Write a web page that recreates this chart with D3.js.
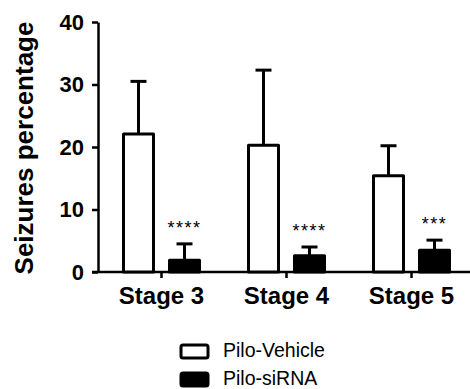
<!DOCTYPE html>
<html lang="en">
<head>
    <meta charset="UTF-8">
    <title>Seizures percentage</title>
    <script src="https://d3js.org/d3.v7.min.js"></script>
    <style>
        body { margin: 0; background: #fff; }
        text { font-family: "Liberation Sans", Arial, sans-serif; }
    </style>
</head>
<body>
    <svg width="470" height="389"></svg>
    <script>
        // data
        const stages = ["Stage 3", "Stage 4", "Stage 5"];
        const groups = ["Pilo-Vehicle", "Pilo-siRNA"];
        const vehicleMean = [22.1, 20.3, 15.4];
        const vehicleErr = [8.4, 12.0, 4.8];
        const sirnaMean = [1.9, 2.6, 3.5];
        const sirnaErr = [2.6, 1.4, 1.6];
        const stars = ["****", "****", "***"];
        const yTicks = [0, 10, 20, 30, 40];

        const svg = d3.select("svg");
        const fills = ["#fff", "#000"];

        const y = d3.scaleLinear().domain([0, 40]).range([272, 22]);
        const x0 = d3.scaleBand().domain(stages).range([99, 474]);
        const x1 = d3.scaleBand().domain(groups).range([-39.5, 39.5]).paddingInner(0.2826);

        // axes
        const yAxis = svg.append("g")
            .attr("transform", "translate(98,0)")
            .call(d3.axisLeft(y).tickValues(yTicks).tickSize(6).tickPadding(8).tickSizeOuter(0));
        yAxis.selectAll("text").attr("font-size", 22).attr("font-weight", "bold").attr("fill", "#000");

        const xAxis = svg.append("g")
            .attr("transform", "translate(0,272)")
            .call(d3.axisBottom(x0).tickSize(6).tickPadding(9).tickSizeOuter(0));
        xAxis.selectAll("text").attr("font-size", 24).attr("font-weight", "bold").attr("fill", "#000");

        svg.selectAll(".domain, .tick line").attr("stroke", "#000").attr("stroke-width", 2.5);
        xAxis.select(".domain").attr("d", "M92,0H470");

        // bars
        const rows = stages.map((s, i) => ({
            stage: s,
            vals: [
                {g: groups[0], m: vehicleMean[i], e: vehicleErr[i], k: 0},
                {g: groups[1], m: sirnaMean[i], e: sirnaErr[i], k: 1}
            ],
            star: stars[i]
        }));

        const grp = svg.selectAll(".grp")
            .data(rows)
            .enter().append("g")
            .attr("transform", d => `translate(${x0(d.stage) + x0.bandwidth() / 2},0)`);

        const bar = grp.selectAll(".b")
            .data(d => d.vals)
            .enter().append("g");

        bar.append("line")
            .attr("x1", d => x1(d.g) + x1.bandwidth() / 2)
            .attr("x2", d => x1(d.g) + x1.bandwidth() / 2)
            .attr("y1", d => y(d.m))
            .attr("y2", d => y(d.m + d.e))
            .attr("stroke", "#000").attr("stroke-width", 3);
        bar.append("line")
            .attr("x1", d => x1(d.g) + x1.bandwidth() / 2 - 8)
            .attr("x2", d => x1(d.g) + x1.bandwidth() / 2 + 8)
            .attr("y1", d => y(d.m + d.e))
            .attr("y2", d => y(d.m + d.e))
            .attr("stroke", "#000").attr("stroke-width", 3);

        bar.append("rect")
            .attr("x", d => x1(d.g) + 1.5)
            .attr("y", d => y(d.m))
            .attr("width", x1.bandwidth() - 3)
            .attr("height", d => y(0) - y(d.m))
            .attr("fill", d => fills[d.k])
            .attr("stroke", "#000")
            .attr("stroke-width", 3)
            .attr("stroke-linejoin", "round");

        grp.append("text")
            .attr("x", x1(groups[1]) + x1.bandwidth() / 2)
            .attr("y", d => y(d.vals[1].m + d.vals[1].e) - 10)
            .attr("text-anchor", "middle")
            .attr("font-size", 18)
            .attr("letter-spacing", 1.5)
            .text(d => d.star);

        // y label
        svg.append("text")
            .attr("transform", "translate(33,148) rotate(-90)")
            .attr("text-anchor", "middle")
            .attr("font-size", 26)
            .attr("font-weight", "bold")
            .text("Seizures percentage");

        // legend
        const leg = svg.selectAll(".leg")
            .data(groups)
            .enter().append("g")
            .attr("transform", (d, i) => `translate(181,${345 + i * 28})`);
        leg.append("rect")
            .attr("width", 27).attr("height", 13)
            .attr("rx", 2)
            .attr("fill", (d, i) => fills[i])
            .attr("stroke", "#000").attr("stroke-width", 3);
        leg.append("text")
            .attr("x", 42).attr("y", 12)
            .attr("font-size", 19.5)
            .text(d => d);
    </script>
</body>
</html>
